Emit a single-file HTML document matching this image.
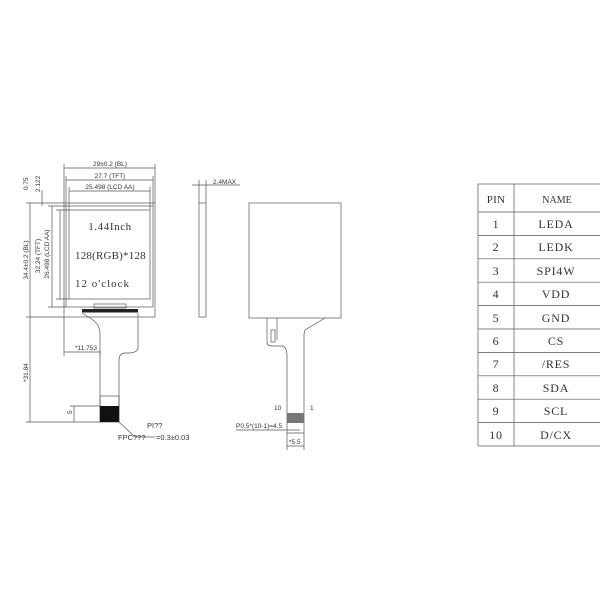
<!DOCTYPE html>
<html><head><meta charset="utf-8"><style>
html,body{margin:0;padding:0;background:#fff;}
svg{display:block;}
.d{font-family:"Liberation Sans",sans-serif;font-size:6.5px;fill:#333;}
.s{font-family:"Liberation Serif",serif;fill:#333;}
</style></head><body>
<svg width="600" height="600" viewBox="0 0 600 600" xmlns="http://www.w3.org/2000/svg">
<g stroke="#555" stroke-width="0.7" fill="none">
<rect x="64" y="203" width="91" height="114"/>
<rect x="66" y="206" width="87" height="101"/>
<rect x="69" y="210" width="81" height="89"/>
<rect x="94" y="304" width="32" height="4"/>
<path d="M82 313 L90 318 Q100 324 100 334 L100 422 M138 313 L138 348 Q138 352 130 353 L124 353 Q119 354 119 360 L119 422"/>
<rect x="100" y="396" width="19" height="26"/>
<path d="M64 203 V164 M155 203 V164 M66 206 V176 M153 206 V176 M69 210 V187 M150 210 V187"/>
<path d="M64 168 H155 M66 180 H153 M69 191 H150"/>
<path d="M64 203 H26 M64 317 H26 M66 206 H48 M66 307 H48 M69 210 H56 M69 299 H56"/>
<path d="M30 203 V317 M52 206 V307 M60 210 V299 M42 190 V206 M30 422 V317"/>
<path d="M100 422 H26 M100 406 H70 M74 406 V422"/>
<path d="M64 317 V356 M100 350 V356 M64 352 H100"/>
<path d="M119 422 L135 437 H155"/>
<rect x="199" y="203" width="7" height="114"/>
<path d="M199 203 V180 M206 203 V180 M192 185 H240"/>
<rect x="249" y="203" width="92" height="115"/>
<path d="M267 318 V342 Q267 346 272 346 L282 346 Q287 347 287 356 L287 423 M277 318 V340 M325 318 L305 330 L304 334 L304 423"/>
<rect x="271" y="330" width="4" height="12"/>
<path d="M287 423 V450 M304 423 V450 M287 433 H304 M287 446 H304 M236 430 H300"/>
<rect x="478" y="184" width="130" height="262"/>
<path d="M514 184 V446"/>
<path d="M478 212 H600 M478 235.4 H600 M478 258.8 H600 M478 282.2 H600 M478 305.6 H600 M478 329 H600 M478 352.4 H600 M478 375.8 H600 M478 399.2 H600 M478 422.6 H600"/>
</g>
<rect x="82" y="309" width="56" height="3.5" fill="#222"/>
<rect x="100" y="406" width="19" height="16" fill="#111"/>
<rect x="287" y="413" width="17" height="10" fill="#777"/>
<g class="d">
<text x="110" y="166" text-anchor="middle">29±0.2 (BL)</text>
<text x="110" y="178" text-anchor="middle">27.7 (TFT)</text>
<text x="110" y="189" text-anchor="middle">25.498 (LCD AA)</text>
<text x="213" y="184">2.4MAX</text>
<text x="75" y="350">*11.753</text>
<text x="236" y="428">P0.5*(10-1)=4.5</text>
<text x="289" y="444">*5.5</text>
<text x="274" y="410">10</text>
<text x="310" y="410">1</text>
<text x="147" y="428" style="font-size:7.5px">PI??</text>
<text x="118" y="440" style="font-size:7.5px">FPC???</text>
<text x="156" y="440" style="font-size:7.5px">=0.3±0.03</text>
<text transform="translate(28,260) rotate(-90)" text-anchor="middle">34.4±0.2 (BL)</text>
<text transform="translate(40,256) rotate(-90)" text-anchor="middle">32.24 (TFT)</text>
<text transform="translate(49,254) rotate(-90)" text-anchor="middle">26.498 (LCD AA)</text>
<text transform="translate(28,190) rotate(-90)">0.75</text>
<text transform="translate(40,192) rotate(-90)">2.122</text>
<text transform="translate(28,382) rotate(-90)">*31.84</text>
<text transform="translate(72,414) rotate(-90)">5</text>
</g>
<g class="s" style="font-size:11px;letter-spacing:0.6px">
<text x="110" y="230" text-anchor="middle">1.44Inch</text>
<text x="75" y="259" style="letter-spacing:0.2px">128(RGB)*128</text>
<text x="75" y="287" style="letter-spacing:1px">12 o'clock</text>
</g>
<g class="s" style="font-size:12px;letter-spacing:0.8px" text-anchor="middle">
<text x="496" y="203" style="font-size:11px;letter-spacing:0.3px">PIN</text>
<text x="557" y="203" style="font-size:10px;letter-spacing:0">NAME</text>
<text x="496" y="228">1</text><text x="556" y="228">LEDA</text>
<text x="496" y="251">2</text><text x="556" y="251">LEDK</text>
<text x="496" y="275">3</text><text x="556" y="275">SPI4W</text>
<text x="496" y="298">4</text><text x="556" y="298">VDD</text>
<text x="496" y="322">5</text><text x="556" y="322">GND</text>
<text x="496" y="345">6</text><text x="556" y="345">CS</text>
<text x="496" y="368">7</text><text x="556" y="368">/RES</text>
<text x="496" y="392">8</text><text x="556" y="392">SDA</text>
<text x="496" y="415">9</text><text x="556" y="415">SCL</text>
<text x="496" y="439">10</text><text x="556" y="439">D/CX</text>
</g>
</svg>
</body></html>
